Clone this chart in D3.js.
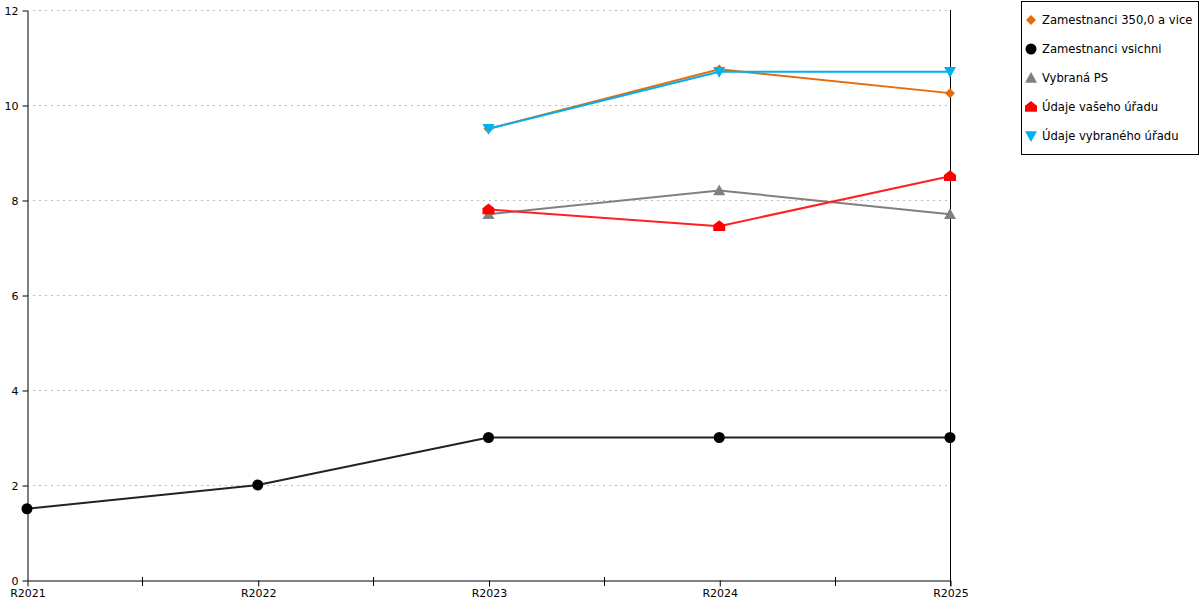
<!DOCTYPE html>
<html>
<head>
<meta charset="utf-8">
<script src="https://cdn.jsdelivr.net/npm/d3@7"></script>
<style>
  body { margin: 0; background: #fff; }
  svg { font-family: "DejaVu Sans", sans-serif; }
</style>
</head>
<body>
<svg id="chart" width="1200" height="600"></svg>
<script>
// data
const categories = ["R2021", "R2022", "R2023", "R2024", "R2025"];
const seriesNames = ["Zamestnanci 350,0 a vice", "Zamestnanci vsichni", "Vybraná PS", "Údaje vašeho úřadu", "Údaje vybraného úřadu"];
const zam350 = [null, null, 9.5, 10.75, 10.25];
const zamVsichni = [1.5, 2, 3, 3, 3];
const vybranaPS = [null, null, 7.7, 8.2, 7.7];
const vasUrad = [null, null, 7.8, 7.45, 8.5];
const vybranyUrad = [null, null, 9.5, 10.7, 10.7];
const yTicks = [0, 2, 4, 6, 8, 10, 12];

const colors = ["#e46c0a", "#000000", "#808080", "#ff0000", "#00b0f0"];
const lineColors = ["#e46c0a", "#222222", "#808080", "#ff2020", "#00b0f0"];
const shapes = ["diamond", "circle", "triUp", "house", "triDown"];
const allSeries = [zam350, zamVsichni, vybranaPS, vasUrad, vybranyUrad];

const svg = d3.select("#chart");
const plotL = 27, plotR = 950, plotT = 10, plotB = 580;

const x = d3.scalePoint().domain(categories).range([plotL, plotR]);
const y = d3.scaleLinear().domain([0, 12]).range([plotB, plotT]);

// grid
svg.append("g")
  .selectAll("line")
  .data(yTicks.filter(d => d > 0))
  .enter()
  .append("line")
  .attr("x1", plotL).attr("x2", plotR - 2)
  .attr("y1", d => y(d) + 0.5).attr("y2", d => y(d) + 0.5)
  .attr("stroke", "#bbb")
  .attr("stroke-dasharray", "2,4");

// y axis
const yAxis = svg.append("g")
  .attr("transform", `translate(${plotL + 0.5},0.5)`)
  .call(d3.axisLeft(y).tickValues(yTicks).tickSize(5).tickSizeOuter(0).tickPadding(4));
yAxis.select(".domain").attr("stroke", "#000");
yAxis.selectAll("text").attr("font-size", 11).attr("fill", "#000").attr("font-family", "DejaVu Sans");

// right line
svg.append("line")
  .attr("x1", plotR + 0.5).attr("x2", plotR + 0.5)
  .attr("y1", plotT).attr("y2", plotB + 6)
  .attr("stroke", "#000");

// x axis
const xAxis = svg.append("g")
  .attr("transform", `translate(0.5,${plotB + 0.5})`)
  .call(d3.axisBottom(x).tickSize(6).tickSizeOuter(0).tickPadding(3));
xAxis.select(".domain").attr("stroke", "#000");
xAxis.selectAll("text").attr("font-size", 11).attr("fill", "#000").attr("font-family", "DejaVu Sans");

// minor ticks between categories
const mids = d3.pairs(categories).map(([a, b]) => (x(a) + x(b)) / 2);
svg.append("g")
  .selectAll("line")
  .data(mids)
  .enter()
  .append("line")
  .attr("x1", d => Math.round(d) + 0.5).attr("x2", d => Math.round(d) + 0.5)
  .attr("y1", plotB - 3).attr("y2", plotB + 6)
  .attr("stroke", "#000");

function marker(shape, s) {
  switch (shape) {
    case "diamond": return `M0,${-s}L${s},0L0,${s}L${-s},0Z`;
    case "circle": return d3.symbol(d3.symbolCircle, Math.PI * s * s)();
    case "triUp": return `M0,${-s}L${s},${s * 0.8}L${-s},${s * 0.8}Z`;
    case "house": return `M0,${-s}L${s},${-s * 0.2}L${s},${s * 0.8}L${-s},${s * 0.8}L${-s},${-s * 0.2}Z`;
    case "triDown": return `M${-s},${-s * 0.8}L${s},${-s * 0.8}L0,${s}Z`;
  }
}
const markerSize = [5, 5.5, 6, 6, 6];

const line = d3.line()
  .defined(d => d != null)
  .x((d, i) => x(categories[i]))
  .y(d => y(d));

// draw order: gray, red, black, orange, blue on top
const order = [2, 3, 1, 0, 4];
order.forEach(si => {
  const vals = allSeries[si];
  const g = svg.append("g");
  g.append("path")
    .datum(vals)
    .attr("d", line)
    .attr("fill", "none")
    .attr("stroke", lineColors[si])
    .attr("stroke-width", 2);
  g.selectAll("path.m")
    .data(vals.map((v, i) => ({ v, i })).filter(d => d.v != null))
    .enter()
    .append("path")
    .attr("class", "m")
    .attr("transform", d => `translate(${x(categories[d.i])},${y(d.v)})`)
    .attr("d", marker(shapes[si], markerSize[si]))
    .attr("fill", colors[si]);
});

// legend
const legend = svg.append("g");
legend.append("rect")
  .attr("x", 1021.5).attr("y", 1.5)
  .attr("width", 177).attr("height", 153)
  .attr("fill", "#fff").attr("stroke", "#000");
const items = legend.selectAll("g.item")
  .data(seriesNames)
  .enter()
  .append("g")
  .attr("class", "item")
  .attr("transform", (d, i) => `translate(1031,${20 + i * 29})`);
items.append("path")
  .attr("d", (d, i) => marker(shapes[i], markerSize[i]))
  .attr("fill", (d, i) => colors[i]);
items.append("text")
  .attr("x", 11)
  .attr("dy", "0.35em")
  .attr("font-size", 11.6)
  .attr("fill", "#000")
  .text(d => d);
</script>
</body>
</html>
